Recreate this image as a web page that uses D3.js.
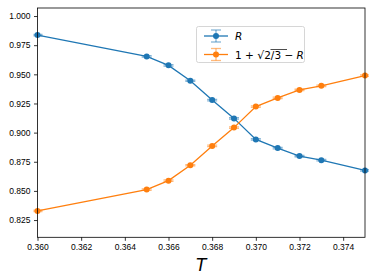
<!DOCTYPE html>
<html lang="en">
<head>
<meta charset="UTF-8">
<title>R vs T</title>
<style>
  body { margin: 0; background: #fff; }
  svg { display: block; font-family: "DejaVu Sans", sans-serif; }
  .axis .domain { display: none; }
  .axis text { font-size: 8.5px; fill: #000; }
  .axis line { stroke: #000; stroke-width: 0.8; }
</style>
</head>
<body>
<svg width="374" height="280"></svg>
<script src="https://cdn.jsdelivr.net/npm/d3@7/dist/d3.min.js"></script>
<script>
// temperatures
var temps = [0.360, 0.365, 0.366, 0.367, 0.368, 0.369, 0.370, 0.371, 0.372, 0.373, 0.375];
// R
var rVals = [0.9837, 0.9654, 0.9577, 0.9445, 0.9279, 0.9122, 0.8942, 0.8867, 0.8799, 0.8764, 0.8676];
// 1 + sqrt(2/3) - R
var rComp = [0.8328, 0.8511, 0.8588, 0.8720, 0.8886, 0.9043, 0.9223, 0.9298, 0.9366, 0.9401, 0.9489];
var errs = [0.0006, 0.0006, 0.0007, 0.0006, 0.0006, 0.0007, 0.0006, 0.0006, 0.0006, 0.0006, 0.0006];
var xTicks = [0.360, 0.362, 0.364, 0.366, 0.368, 0.370, 0.372, 0.374];
var yTicks = [0.825, 0.850, 0.875, 0.900, 0.925, 0.950, 0.975, 1.000];

var svg = d3.select("svg");
var pLeft = 37.5, pRight = 365, pTop = 8, pBottom = 237.3;

var x = d3.scaleLinear().domain([0.360, 0.375]).range([pLeft, pRight]);
var y = d3.scaleLinear().domain([0.8102, 1.0069]).range([pBottom, pTop]);

var series = [
  {vals: rVals, color: "#1f77b4"},
  {vals: rComp, color: "#ff7f0e"}
];

svg.append("defs").append("clipPath").attr("id", "clip")
  .append("rect").attr("x", pLeft - 4).attr("y", pTop).attr("width", pRight - pLeft + 8).attr("height", pBottom - pTop);

var inner = svg.append("g").attr("clip-path", "url(#clip)");

series.forEach(function(s) {
  var pts = temps.map(function(t, i) { return {t: t, v: s.vals[i], e: errs[i]}; });
  var line = d3.line().x(function(d) { return x(d.t); }).y(function(d) { return y(d.v); });
  inner.append("path").datum(pts)
    .attr("d", line).attr("fill", "none")
    .attr("stroke", s.color).attr("stroke-width", 1.3);

  var eb = inner.append("g").selectAll("g").data(pts).enter().append("g")
    .attr("stroke", s.color).attr("stroke-opacity", 0.55).attr("stroke-width", 1.3);
  eb.append("line")
    .attr("x1", function(d) { return x(d.t); }).attr("x2", function(d) { return x(d.t); })
    .attr("y1", function(d) { return y(d.v - d.e); }).attr("y2", function(d) { return y(d.v + d.e); });
  eb.append("line")
    .attr("x1", function(d) { return x(d.t) - 5; }).attr("x2", function(d) { return x(d.t) + 5; })
    .attr("y1", function(d) { return y(d.v - d.e); }).attr("y2", function(d) { return y(d.v - d.e); });
  eb.append("line")
    .attr("x1", function(d) { return x(d.t) - 5; }).attr("x2", function(d) { return x(d.t) + 5; })
    .attr("y1", function(d) { return y(d.v + d.e); }).attr("y2", function(d) { return y(d.v + d.e); });

  inner.append("g").selectAll("circle").data(pts).enter().append("circle")
    .attr("cx", function(d) { return x(d.t); })
    .attr("cy", function(d) { return y(d.v); })
    .attr("r", 3).attr("fill", s.color);
});

// axes
svg.append("g").attr("class", "axis")
  .attr("transform", "translate(0," + pBottom + ")")
  .call(d3.axisBottom(x).tickValues(xTicks).tickFormat(d3.format(".3f")).tickSize(3.5).tickPadding(3.5));
svg.append("g").attr("class", "axis")
  .attr("transform", "translate(" + pLeft + ",0)")
  .call(d3.axisLeft(y).tickValues(yTicks).tickFormat(d3.format(".3f")).tickSize(3.5).tickPadding(3.5));

svg.append("rect")
  .attr("x", pLeft).attr("y", pTop).attr("width", pRight - pLeft).attr("height", pBottom - pTop)
  .attr("fill", "none").attr("stroke", "#000").attr("stroke-width", 0.8);

svg.append("text")
  .attr("x", (pLeft + pRight) / 2).attr("y", 271)
  .attr("text-anchor", "middle")
  .attr("font-size", 17).attr("font-style", "italic")
  .text("T");

// legend
var lg = svg.append("g");
lg.append("rect").attr("x", 196.5).attr("y", 26.5).attr("width", 108).attr("height", 36)
  .attr("rx", 2).attr("fill", "#fff").attr("fill-opacity", 0.8)
  .attr("stroke", "#ccc").attr("stroke-width", 0.8);
series.forEach(function(s, i) {
  var cy = 36 + i * 18.5;
  var g = lg.append("g").attr("stroke", s.color);
  g.append("line").attr("x1", 204).attr("x2", 228).attr("y1", cy).attr("y2", cy).attr("stroke-width", 1.3);
  var e = g.append("g").attr("stroke-opacity", 0.55).attr("stroke-width", 1.3);
  e.append("line").attr("x1", 216).attr("x2", 216).attr("y1", cy - 6).attr("y2", cy + 6);
  e.append("line").attr("x1", 211).attr("x2", 221).attr("y1", cy - 6).attr("y2", cy - 6);
  e.append("line").attr("x1", 211).attr("x2", 221).attr("y1", cy + 6).attr("y2", cy + 6);
  lg.append("circle").attr("cx", 216).attr("cy", cy).attr("r", 3).attr("fill", s.color);
});
lg.append("text").attr("x", 235).attr("y", 40).attr("font-size", 10.5)
  .attr("font-style", "italic").text("R");
var t2 = lg.append("text").attr("x", 235).attr("y", 59).attr("font-size", 10.5);
t2.append("tspan").text("1 + ");
t2.append("tspan").attr("font-size", 11).text("\u221A");
t2.append("tspan").text("2/3");
t2.append("tspan").text(" \u2212 ");
t2.append("tspan").attr("font-style", "italic").text("R");
// overbar of the root
lg.append("line").attr("x1", 270.5).attr("x2", 287).attr("y1", 49.5).attr("y2", 49.5)
  .attr("stroke", "#000").attr("stroke-width", 0.7);
</script>
</body>
</html>
